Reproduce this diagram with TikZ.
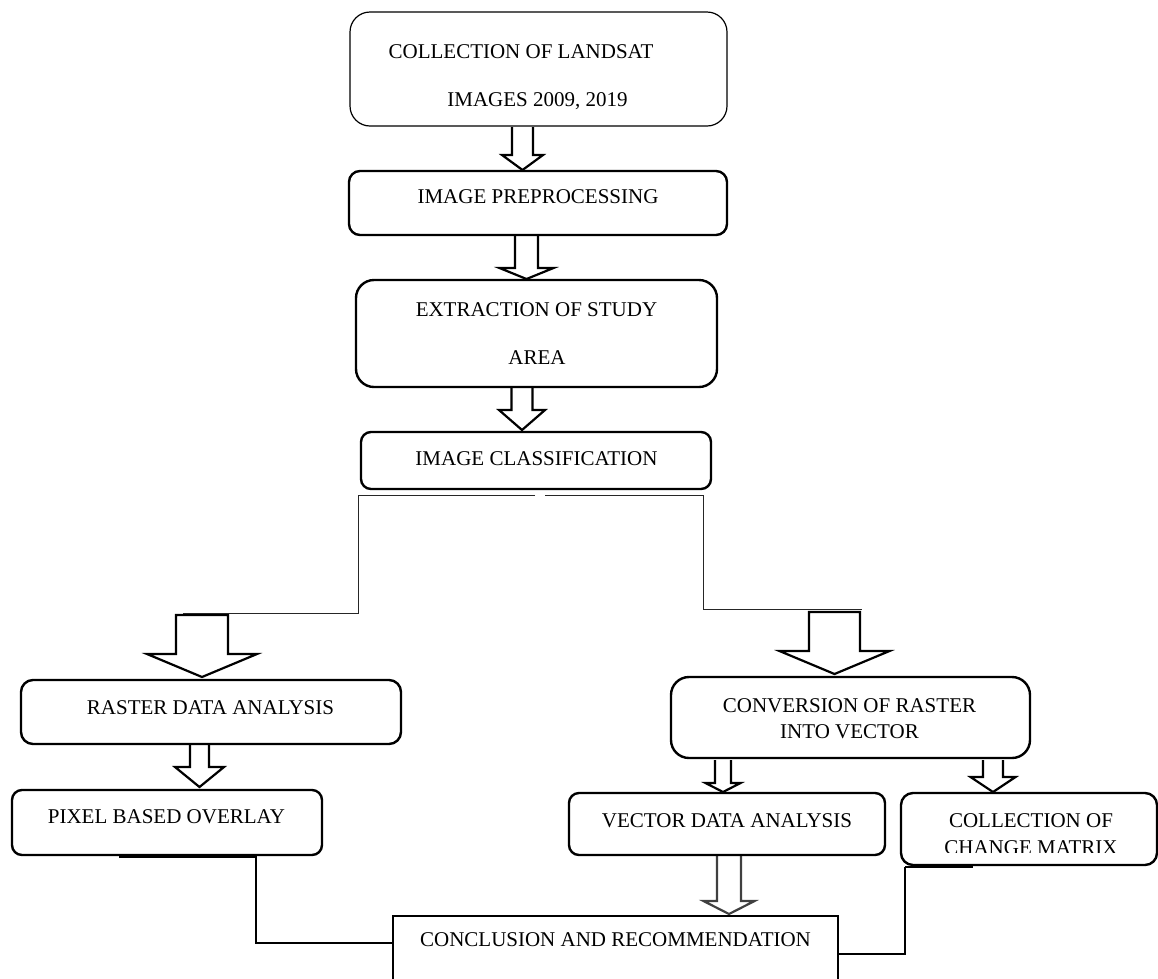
\documentclass[tikz,border=0pt]{standalone}
\usepackage{fontspec}
\setmainfont{Liberation Serif}
\newcommand{\blockarrowopen}[7]{%
  \fill[white] ({#1-#5},#2) -- ({#1-#5},#3) -- ({#1-#6},#3) -- (#1,#4) -- ({#1+#6},#3) -- ({#1+#5},#3) -- ({#1+#5},#2) -- cycle;
  \draw[barrowstyle,#7] ({#1-#5},#2) -- ({#1-#5},#3) -- ({#1-#6},#3) -- (#1,#4) -- ({#1+#6},#3) -- ({#1+#5},#3) -- ({#1+#5},#2);}
\newcommand{\blockarrowclosed}[7]{%
  \draw[barrowstyle,fill=white,#7] ({#1-#5},#2) -- ({#1-#5},#3) -- ({#1-#6},#3) -- (#1,#4) -- ({#1+#6},#3) -- ({#1+#5},#3) -- ({#1+#5},#2) -- cycle;}
\begin{document}
\begin{tikzpicture}[x=1pt,y=-1pt,
  box/.style={draw, line width=2.4pt, rounded corners=#1, inner sep=0pt},
  box/.default=10pt,
  txt/.style={inner sep=0pt, text height=13.9pt, text depth=0pt, font=\fontsize{21}{25}\selectfont},
  conn/.style={line width=1pt, draw=black!85},
  barrowstyle/.style={line width=2.2pt, line join=miter}
]
\useasboundingbox (0,0) rectangle (1158,978);
\clip (0,0) rectangle (1158,978);
\fill[white] (0,0) rectangle (1158,978);

% block arrows
\blockarrowopen{522.5}{127}{155}{170}{10.5}{20.5}{}
\blockarrowopen{526.5}{236}{268}{279}{11.5}{27}{}
\blockarrowopen{522}{388}{410}{430}{10.5}{23}{}
\blockarrowclosed{202}{615}{654}{677}{26}{55}{}
\blockarrowclosed{834.5}{612}{651}{674}{25.5}{55}{}
\blockarrowopen{199.5}{745}{767}{787}{9.5}{24.5}{}
\blockarrowopen{723}{760}{783}{792}{8}{17.5}{}
\blockarrowopen{993}{760}{777}{792}{10}{22.5}{}
\blockarrowopen{729}{856}{901}{914}{12}{25.5}{draw=black!75}

% boxes
\node[box=20pt, line width=1.2pt, minimum width=377pt, minimum height=114pt] (b1) at (538.5,69) {};
\node[box=11pt, minimum width=378pt, minimum height=64pt] (b2) at (538,203) {};
\node[box=18pt, minimum width=361pt, minimum height=107pt] (b3) at (536.5,333.5) {};
\node[box=10pt, minimum width=350pt, minimum height=57pt] (b4) at (536,460.5) {};
\node[box=12pt, minimum width=380pt, minimum height=64pt] (b5) at (211,712) {};
\node[box=10pt, minimum width=310pt, minimum height=65pt] (b6) at (167,822.5) {};
\node[box=18pt, minimum width=359pt, minimum height=81pt] (b7) at (850.5,717.5) {};
\node[box=10pt, minimum width=316pt, minimum height=62pt] (b8) at (727,824) {};
\node[box=12pt, minimum width=256pt, minimum height=72pt] (b9) at (1029,829) {};
\node[draw, line width=2.4pt, inner sep=0pt, minimum width=445pt, minimum height=94pt] (b10) at (615.5,963) {};

% texts
\node[txt] (t1a) at (521,52) {COLLECTION OF LANDSAT};
\node[txt] (t1b) at (537.5,100) {IMAGES 2009, 2019};
\node[txt] (t2) at (538,197) {IMAGE PREPROCESSING};
\node[txt] (t3a) at (536.5,310) {EXTRACTION OF STUDY};
\node[txt] (t3b) at (537,358) {AREA};
\node[txt] (t4) at (536.5,459) {IMAGE CLASSIFICATION};
\node[txt] (t5) at (210.5,708) {RASTER DATA ANALYSIS};
\node[txt] (t6) at (166.5,817) {PIXEL BASED OVERLAY};
\node[txt] (t7a) at (849.5,706) {CONVERSION OF RASTER};
\node[txt] (t7b) at (849.5,732) {INTO VECTOR};
\node[txt] (t8) at (727,821) {VECTOR DATA ANALYSIS};
\begin{scope}
  \clip (901,793) rectangle (1157,852);
  \node[txt] (t9a) at (1031,821) {COLLECTION OF};
  \node[txt] (t9b) at (1031,848) {CHANGE MATRIX};
\end{scope}
\node[txt] (t10) at (615.5,940) {CONCLUSION AND RECOMMENDATION};

% connectors from classification
\coordinate (sL) at (535,495);
\coordinate (kL) at (358,495);
\coordinate (eL) at (183,613);
\draw[conn] (sL) -- (kL) |- (eL);
\coordinate (sR) at (545,495);
\coordinate (kR) at (703,495);
\coordinate (eR) at (862,609);
\draw[conn] (sR) -- (kR) |- (eR);

% connectors to conclusion
\draw[line width=2.4pt] (119,857) -- (257,857);
\coordinate (pA) at (256,857);
\coordinate (pB) at (b10.west |- 0,943);
\draw[line width=1.6pt] (pA) |- (pB);
\draw[line width=1.4pt] (905,867) -- (973,867);
\coordinate (qA) at (905,867);
\coordinate (qB) at (b10.east |- 0,954);
\draw[line width=1.6pt] (qA) |- (qB);
\end{tikzpicture}
\end{document}
